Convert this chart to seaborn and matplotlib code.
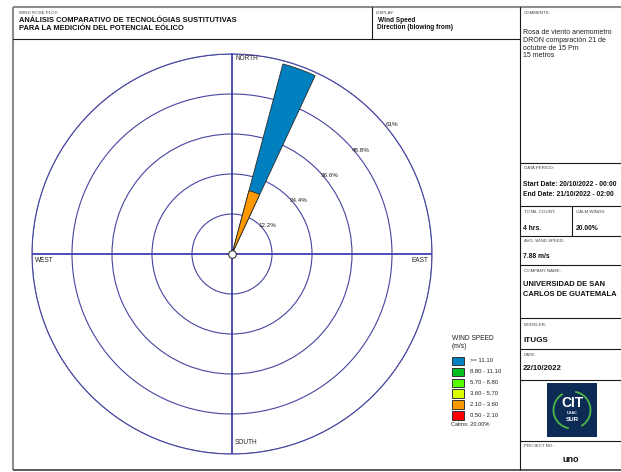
import numpy as np
import pandas as pd
import matplotlib
matplotlib.use("Agg")
import matplotlib.pyplot as plt
from matplotlib.patches import Rectangle, Arc
import seaborn as sns

# ---------------- wind rose data ----------------
sector_deg = 20                      # direction the wind blows from (deg)
sector_width_deg = 10                # angular width of each petal
speed_bins = ["0.50 - 2.10", "2.10 - 3.60", "3.60 - 5.70",
              "5.70 - 8.80", "8.80 - 11.10", ">= 11.10"]
bin_colors = ["#ff0000", "#ff9900", "#dcff00", "#55ff00", "#00c020", "#0080bf"]
bin_freq = [0.0, 20.0, 0.0, 0.0, 0.0, 40.0]   # % of records per speed class
calms_pct = 20.0
ring_values = [12.2, 24.4, 36.6, 48.8, 61.0]
cardinal_labels = ["NORTH", "EAST", "SOUTH", "WEST"]

# ---------------- sheet texts ----------------
title_lines = ["ANÁLISIS COMPARATIVO DE TECNOLÓGIAS SUSTITUTIVAS",
               "PARA LA MEDICIÓN DEL POTENCIAL EÓLICO"]
display_lines = ["Wind Speed", "Direction (blowing from)"]
comment_lines = ["Rosa de viento anemometro", "DRON comparación 21 de",
                 "octubre de 15 Pm", "15 metros"]
period_lines = ["Start Date: 20/10/2022 - 00:00", "End Date: 21/10/2022 - 02:00"]
total_count = "4 hrs."
avg_speed = "7.88 m/s"
company_lines = ["UNIVERSIDAD DE SAN", "CARLOS DE GUATEMALA"]
modeler = "ITUGS"
report_date = "22/10/2022"
project_no = "uno"

sns.set_style("white")
plt.rcParams["font.family"] = ["Liberation Sans", "DejaVu Sans"]

W, H = 621, 472
fig = plt.figure(figsize=(W / 100, H / 100), dpi=100)

# ---------------- report frame (pixel coordinates) ----------------
frame = fig.add_axes([0, 0, 1, 1])
frame.set_xlim(0, W)
frame.set_ylim(H, 0)
frame.axis("off")

gray = "#8c8c8c"
ink = "#1a1a1a"
frame.plot([13, W], [7, 7], color=gray, lw=1.5, solid_capstyle="butt")
frame.plot([13, 13], [7, 470], color=gray, lw=1.5, solid_capstyle="butt")
frame.plot([13, W], [470, 470], color="#404040", lw=1.2, solid_capstyle="butt")
frame.plot([13, 520], [38.5, 38.5], color=ink, lw=0.8)
frame.plot([372, 372], [7, 38.5], color=ink, lw=0.8)
frame.plot([520, 520], [7, 470], color=ink, lw=0.8)
for y in [163, 206, 236, 265, 318, 349, 380, 441]:
    frame.plot([520, W], [y, y], color=ink, lw=0.8)
frame.plot([572, 572], [206, 236], color=ink, lw=0.8)

hdr = dict(fontsize=3.2, color="#444444", va="center", ha="left")
bold = dict(fontweight="bold", color="#111111", va="center", ha="left")

frame.text(19, 13, "WIND ROSE PLOT:", **hdr)
frame.text(19, 21, title_lines[0], fontsize=5.4, **bold)
frame.text(19, 28.3, title_lines[1], fontsize=5.4, **bold)

frame.text(376, 12.5, "DISPLAY:", **hdr)
frame.text(378, 20, display_lines[0], fontsize=4.7, **bold)
frame.text(377, 27.5, display_lines[1], fontsize=4.7, **bold)

frame.text(524, 13, "COMMENTS:", **hdr)
for i, line in enumerate(comment_lines):
    frame.text(523, 33 + i * 7.6, line, fontsize=5.0, color="#222222", va="center", ha="left")

frame.text(524, 168, "DATA PERIOD:", **hdr)
frame.text(523, 185, period_lines[0], fontsize=4.9, **bold)
frame.text(523, 194, period_lines[1], fontsize=4.9, **bold)

frame.text(524, 212, "TOTAL COUNT:", **hdr)
frame.text(576, 212, "CALM WINDS:", **hdr)
frame.text(523, 228, total_count, fontsize=4.9, **bold)
frame.text(576, 228, f"{calms_pct:.2f}%", fontsize=4.9, **bold)

frame.text(524, 241, "AVG. WIND SPEED:", **hdr)
frame.text(523, 256, avg_speed, fontsize=4.9, **bold)

frame.text(524, 271, "COMPANY NAME:", **hdr)
frame.text(523, 285, company_lines[0], fontsize=5.4, **bold)
frame.text(523, 294, company_lines[1], fontsize=5.4, **bold)

frame.text(524, 325, "MODELER:", **hdr)
frame.text(523, 340, modeler, fontsize=5.9, **bold)

frame.text(524, 355, "DATE:", **hdr)
frame.text(523, 369, report_date, fontsize=5.6, **bold)

# logo block
frame.add_patch(Rectangle((547, 383), 50, 54, facecolor="#0c2b55", edgecolor="none"))
frame.add_patch(Arc((572, 410), 37, 37, theta1=100, theta2=240, color="#4cb848", lw=1.3))
frame.add_patch(Arc((572, 410), 37, 37, theta1=280, theta2=420, color="#4cb848", lw=1.3))
frame.text(572, 403, "CIT", fontsize=10, fontweight="bold", color="white", ha="center", va="center")
frame.text(572, 413, "USAC", fontsize=2.8, fontweight="bold", color="white", ha="center", va="center")
frame.text(572, 419.5, "SUR", fontsize=4.5, fontweight="bold", color="white", ha="center", va="center")

frame.text(524, 446, "PROJECT NO.:", **hdr)
frame.text(571, 460, project_no, fontsize=6.5, fontweight="bold", color="#111111", ha="center", va="center")

# legend for speed classes
frame.text(452, 339, "WIND SPEED", fontsize=4.8, color="#222222", va="center", ha="left")
frame.text(452, 346, "(m/s)", fontsize=4.8, color="#222222", va="center", ha="left")
for i, (lab, col) in enumerate(zip(speed_bins[::-1], bin_colors[::-1])):
    yc = 361 + i * 10.9
    frame.add_patch(Rectangle((452, yc - 4.3), 11.5, 8.6, facecolor=col,
                              edgecolor="#333333", lw=0.7))
    frame.text(470, yc, lab, fontsize=4.2, color="#222222", va="center", ha="left")
frame.text(451, 425, f"Calms: {calms_pct:.2f}%", fontsize=4.1, color="#222222", va="center", ha="left")

# ---------------- polar wind rose ----------------
cx, cy, R = 232, 254, 200
ax = fig.add_axes([(cx - R) / W, (H - cy - R) / H, 2 * R / W, 2 * R / H], projection="polar")
ax.set_facecolor("white")

cum = np.cumsum(bin_freq)
petals = pd.DataFrame({
    "theta": np.radians(sector_deg),
    "speed": speed_bins,
    "top": cum,
    "freq": bin_freq,
})
petals = petals[petals["freq"] > 0]
# outer classes first, inner classes drawn over them -> stacked petal
order = list(petals["speed"])[::-1]
palette = dict(zip(speed_bins, bin_colors))

sns.barplot(data=petals, x="theta", y="top", hue="speed", hue_order=order,
            palette=palette, native_scale=True, dodge=False,
            width=np.radians(sector_width_deg), saturation=1, errorbar=None,
            legend=False, edgecolor="#2a2a2a", linewidth=0.6, ax=ax, zorder=3)

ax.set_theta_zero_location("N")
ax.set_theta_direction(-1)
ax.set_ylim(0, ring_values[-1])
ax.set_yticks(ring_values)
ax.set_yticklabels([])
ax.set_xticks(np.radians([0, 90, 180, 270]))
ax.set_xticklabels([])
ax.set_xlabel("")
ax.set_ylabel("")
ax.tick_params(length=0)
ax.xaxis.grid(True, color="#1c1ca0", lw=1.1)
ax.yaxis.grid(True, color="#4545a0", lw=0.8)
ax.spines["polar"].set_color("#4545a0")
ax.spines["polar"].set_linewidth(0.8)
ax.set_axisbelow(True)

# ring percentage labels
for v in ring_values:
    ax.text(np.radians(51), v + 1.6, f"{v:g}%", fontsize=4.5, color="#222222",
            ha="center", va="center", zorder=4)

# compass labels
card_pos = {
    "NORTH": (0, (3, -5), "left"),
    "EAST": (90, (-4, -6), "right"),
    "SOUTH": (180, (3, 12), "left"),
    "WEST": (270, (3, -6), "left"),
}
for name in cardinal_labels:
    ang, off, ha = card_pos[name]
    ax.annotate(name, xy=(np.radians(ang), ring_values[-1]), xytext=off,
                textcoords="offset pixels", fontsize=4.7, color="#222222",
                ha=ha, va="center", annotation_clip=False)

# calm-centre marker
ax.scatter([0], [0], s=30, facecolor="white", edgecolor="#333333", lw=0.8,
           zorder=5, clip_on=False)

fig.savefig("out.png", dpi=100)
